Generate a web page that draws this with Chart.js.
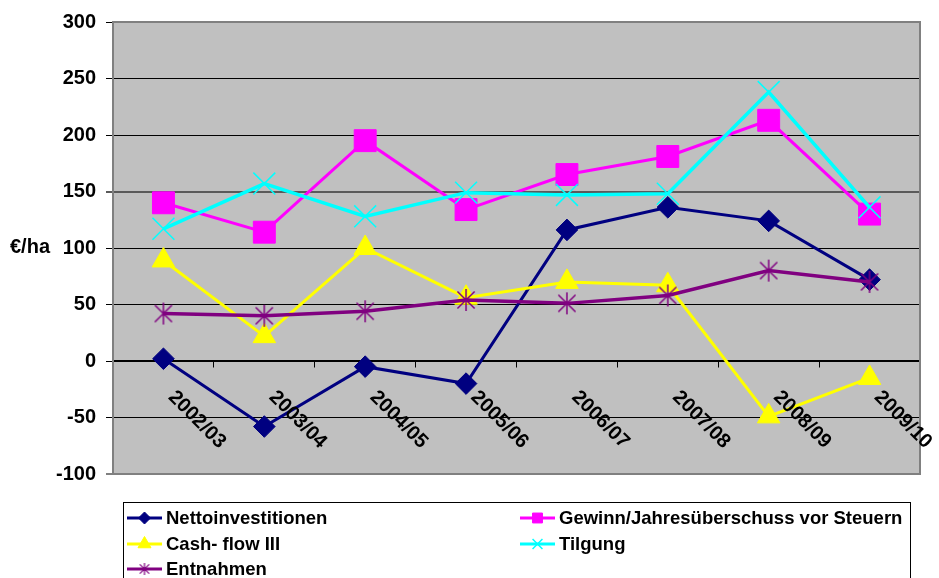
<!DOCTYPE html>
<html>
<head>
<meta charset="utf-8">
<script src="https://cdn.jsdelivr.net/npm/chart.js@4.4.0/dist/chart.umd.min.js"></script>
<style>
  html, body { margin: 0; padding: 0; background: #fff; }
  #wrap { width: 939px; height: 578px; position: relative; }
</style>
</head>
<body>
<div id="wrap"><canvas id="chart" width="939" height="578"></canvas></div>
<script>
const years = ['2002/03', '2003/04', '2004/05', '2005/06', '2006/07', '2007/08', '2008/09', '2009/10'];
const nettoinvestitionen = [2, -58, -5, -20, 116, 136, 124, 72];
const gewinn = [140, 114, 195, 134, 165, 181, 213, 130];
const cashflow = [89, 22, 100, 56, 70, 67, -49, -15];
const tilgung = [117, 157, 128, 149, 147, 148, 238, 136];
const entnahmen = [42, 40, 44, 54, 51, 58, 80, 70];
const yTicks = [-100, -50, 0, 50, 100, 150, 200, 250, 300];

const FONT = '"Liberation Sans", Arial, sans-serif';

// Excel style asterisk marker: vertical stroke plus two diagonals
function makeStar(size, color, lw) {
    const c = document.createElement('canvas');
    c.width = size; c.height = size;
    const g = c.getContext('2d');
    const h = size / 2, d = h - 1;
    g.strokeStyle = color;
    g.lineWidth = lw;
    g.beginPath();
    g.moveTo(h, h - d); g.lineTo(h, h + d);
    g.moveTo(h - d * 0.78, h - d * 0.78); g.lineTo(h + d * 0.78, h + d * 0.78);
    g.moveTo(h + d * 0.78, h - d * 0.78); g.lineTo(h - d * 0.78, h + d * 0.78);
    g.stroke();
    return c;
}
const starBig = makeStar(24, '#800080', 1.5);
const starSmall = makeStar(14, '#800080', 1.2);

const series = [
    { label: 'Nettoinvestitionen', data: nettoinvestitionen, color: '#000080', style: 'rectRot', r: 10.8, bw: 1, lw: 3, order: 5 },
    { label: 'Gewinn/Jahresüberschuss vor Steuern', data: gewinn, color: '#FF00FF', style: 'rect', r: 15.5, bw: 1, lw: 3, order: 4 },
    { label: 'Cash- flow III', data: cashflow, color: '#FFFF00', style: 'triangle', r: 13, bw: 1, lw: 3, order: 3 },
    { label: 'Tilgung', data: tilgung, color: '#00FFFF', style: 'crossRot', r: 15.5, bw: 1.5, lw: 3.5, order: 2 },
    { label: 'Entnahmen', data: entnahmen, color: '#800080', style: starBig, r: 12, bw: 1.5, lw: 3.5, order: 1 }
];

const plotBg = {
    id: 'plotBg',
    beforeDraw(chart) {
        const { ctx, chartArea: a } = chart;
        ctx.save();
        ctx.fillStyle = '#C0C0C0';
        ctx.fillRect(a.left, a.top, a.right - a.left, a.bottom - a.top);
        ctx.restore();
    },
    beforeDatasetsDraw(chart) {
        const { ctx, chartArea: a } = chart;
        ctx.save();
        ctx.strokeStyle = '#808080';
        ctx.lineWidth = 2;
        ctx.beginPath();
        ctx.moveTo(a.left, a.top); ctx.lineTo(a.right, a.top);
        ctx.lineTo(a.right, a.bottom); ctx.lineTo(a.left - 7, a.bottom);
        ctx.stroke();
        ctx.restore();
    }
};

const extras = {
    id: 'extras',
    afterDraw(chart) {
        const { ctx } = chart;
        const xs = chart.scales.x, ys = chart.scales.y;
        ctx.save();
        // category labels, rotated clockwise below the zero line
        ctx.fillStyle = '#000';
        ctx.font = 'bold 20px ' + FONT;
        ctx.textAlign = 'left';
        ctx.textBaseline = 'alphabetic';
        const y0 = ys.getPixelForValue(0);
        years.forEach((lab, i) => {
            ctx.save();
            ctx.translate(xs.getPixelForValue(i) + 4, y0 + 37);
            ctx.rotate(Math.PI / 4);
            ctx.fillText(lab, 0, 0);
            ctx.restore();
        });
        // axis unit
        ctx.textBaseline = 'middle';
        ctx.fillText('€/ha', 10, 247);

        // legend
        ctx.strokeStyle = '#000';
        ctx.lineWidth = 1;
        ctx.strokeRect(123.5, 502.5, 787, 90);
        ctx.font = 'bold 18.5px ' + FONT;
        const pos = [[127, 518], [520, 518], [127, 544], [520, 544], [127, 569]];
        const small = [6, 7, 7.5, 7, 6];
        series.forEach((s, i) => {
            const [lx, ly] = pos[i];
            ctx.strokeStyle = s.color;
            ctx.fillStyle = s.color;
            ctx.lineWidth = 3;
            ctx.beginPath();
            ctx.moveTo(lx, ly); ctx.lineTo(lx + 35, ly);
            ctx.stroke();
            const mx = lx + 17.5;
            if (typeof s.style === 'string') {
                ctx.lineWidth = s.bw;
                Chart.helpers.drawPoint(ctx, { pointStyle: s.style, radius: small[i], borderWidth: s.bw, rotation: 0 }, mx, ly);
            } else {
                ctx.drawImage(starSmall, mx - 7, ly - 7);
            }
            ctx.fillStyle = '#000';
            ctx.textBaseline = 'middle';
            ctx.fillText(s.label, lx + 39, ly + 1);
        });
        ctx.restore();
    }
};

new Chart(document.getElementById('chart'), {
    type: 'line',
    data: {
        labels: years,
        datasets: series.map(s => ({
            label: s.label,
            data: s.data,
            order: s.order,
            borderColor: s.color,
            backgroundColor: s.color,
            borderWidth: s.lw,
            tension: 0,
            fill: false,
            pointStyle: s.style,
            pointRadius: s.r,
            pointHoverRadius: s.r,
            pointBorderWidth: s.bw,
            pointBackgroundColor: s.color,
            pointBorderColor: s.color,
            clip: false
        }))
    },
    options: {
        responsive: false,
        animation: false,
        devicePixelRatio: 1,
        layout: { padding: { left: 0, top: 21, right: 19, bottom: 104 } },
        plugins: {
            legend: { display: false },
            tooltip: { enabled: false }
        },
        scales: {
            x: {
                type: 'category',
                offset: true,
                position: { y: 0 },
                ticks: { display: false },
                grid: { drawOnChartArea: false, drawTicks: true, tickLength: 6, color: '#000', offset: true },
                border: { display: true, color: '#000', width: 1.5 }
            },
            y: {
                min: -100,
                max: 300,
                afterFit(scale) { scale.width = 113; },
                afterBuildTicks(scale) { scale.ticks = yTicks.map(v => ({ value: v })); },
                ticks: {
                    color: '#000',
                    padding: 10,
                    font: { family: FONT, size: 20, weight: 'bold' }
                },
                grid: {
                    color: c => c.tick && c.tick.value === 150 ? '#5a5a5a' : '#000',
                    lineWidth: c => c.tick && c.tick.value === 150 ? 2 : 1,
                    tickLength: 7
                },
                border: { color: '#808080', width: 2 }
            }
        }
    },
    plugins: [plotBg, extras]
});
</script>
</body>
</html>
